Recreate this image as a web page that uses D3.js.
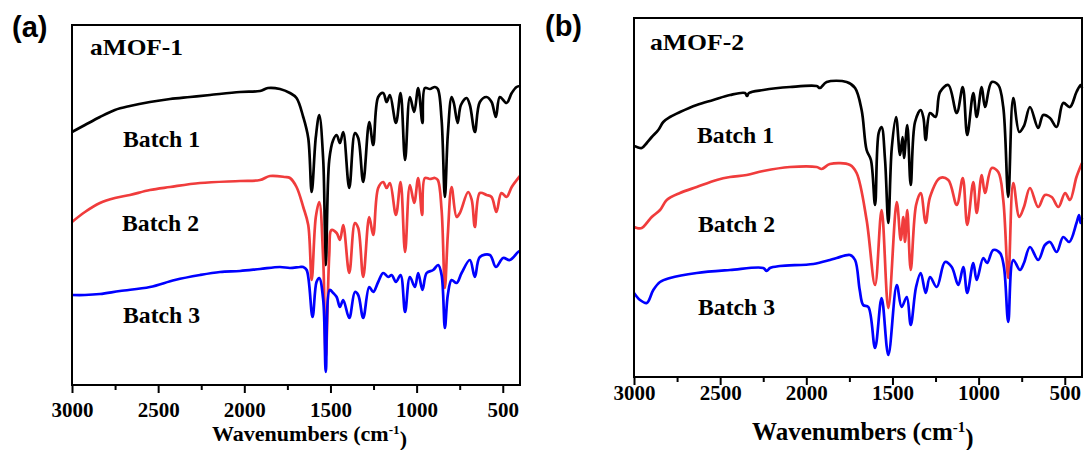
<!DOCTYPE html>
<html>
<head>
<meta charset="utf-8">
<script src="https://cdn.jsdelivr.net/npm/d3@7/dist/d3.min.js"></script>
<style>
  html, body { margin: 0; padding: 0; background: #fff; }
  svg { display: block; }
</style>
</head>
<body>
<svg id="chart" width="1085" height="450"></svg>
<script>
// ---------- DATA (wavenumber in cm^-1, intensity in arbitrary units, curves already offset) ----------
const wnA1 = [3000,2925,2838,2751,2664,2548,2431,2315,2199,2025,1909,1863,1793,1735,1697,1658,1629,1609,1585,1565,1542,1527,1507,1484,1464,1445,1426,1391,1358,1339,1310,1275,1252,1223,1194,1174,1155,1120,1093,1067,1039,1014,991,966,952,923,894,877,855,836,819,797,784,762,743,710,691,662,633,594,565,540,517,478,448,420,400];
const a1 = [253,260,268,275,279,283,286,288,290,293,294,297,296,292,287,268,247,193,248,270,225,120,225,245,250,242,253,197,252,247,203,263,240,288,292,283,290,262,292,225,288,273,297,262,297,296,298,296,265,188,250,288,282,262,280,287,280,253,283,288,283,268,288,282,292,298,299];

const wnA2 = [3000,2925,2838,2751,2664,2548,2431,2257,2025,1909,1851,1764,1735,1697,1658,1629,1609,1585,1565,1542,1527,1507,1494,1464,1445,1426,1391,1358,1339,1310,1275,1252,1223,1194,1174,1155,1120,1093,1067,1039,1014,991,968,952,923,894,877,855,836,819,797,768,749,701,680,662,633,594,565,537,508,478,448,405,400];
const a2 = [163,173,182,187,190,195,198,202,204,205,209,208,207,198,178,160,105,168,183,125,28,130,155,152,145,160,112,162,157,108,168,150,197,203,197,202,170,203,133,200,182,207,170,207,206,207,205,175,97,150,198,168,172,193,185,158,192,190,188,173,192,188,198,208,209];

const wnA3 = [3000,2925,2838,2722,2548,2403,2257,2141,2025,1909,1793,1735,1677,1658,1638,1604,1581,1565,1542,1527,1504,1484,1464,1445,1426,1391,1358,1339,1310,1275,1252,1223,1194,1165,1145,1120,1093,1067,1039,1010,991,966,942,904,875,855,836,819,797,768,739,691,662,633,575,540,498,459,411,400];
const a3 = [90,90,91,94,98,105,110,113,114,116,118,117,118,118,115,68,103,107,85,13,95,92,88,78,85,67,93,90,67,98,93,103,112,108,110,103,110,73,108,98,112,95,112,115,120,110,57,90,105,102,112,125,108,128,130,118,127,125,133,134];

const wnB1 = [3000,2983,2955,2926,2897,2859,2830,2791,2733,2636,2540,2443,2356,2344,2333,2250,2095,1940,1921,1882,1766,1717,1679,1650,1625,1601,1580,1563,1543,1524,1504,1479,1456,1441,1433,1414,1394,1369,1336,1320,1307,1282,1250,1224,1176,1127,1092,1066,1031,1011,982,963,924,886,857,828,799,764,737,702,654,625,586,547,509,470,432,408,400];
const b1 = [231,230,229,234,240,247,255,260,265,272,277,282,284,281,284,287,290,291,289,295,295,289,267,227,217,172,244,250,217,154,229,260,222,240,219,252,192,255,267,259,237,264,260,285,292,264,290,242,284,260,290,270,295,292,270,180,279,245,251,270,249,262,259,250,274,270,285,292,289];

const wnB2 = [3000,2983,2955,2926,2897,2849,2810,2733,2636,2520,2443,2346,2250,2095,1940,1911,1863,1746,1708,1650,1601,1563,1524,1475,1452,1437,1427,1414,1394,1363,1336,1307,1282,1224,1176,1127,1092,1066,1031,1011,982,963,924,886,857,828,799,764,737,702,654,615,576,537,498,470,432,400];
const b2 = [150,149,149,154,160,167,177,184,190,197,200,202,206,210,210,208,213,212,204,157,92,167,69,175,137,160,135,167,107,172,184,154,180,199,197,172,199,152,195,164,202,184,209,205,177,99,194,160,170,189,170,182,180,170,184,177,200,214];

const wnB3 = [3000,2965,2926,2888,2849,2791,2636,2443,2250,2230,2211,2153,1959,1863,1824,1746,1717,1690,1670,1640,1601,1563,1524,1475,1447,1417,1394,1363,1336,1307,1282,1243,1195,1156,1118,1089,1066,1031,1011,973,951,915,876,853,828,799,760,737,702,654,615,586,547,509,474,432,417,408,400];
const b3 = [84,77,74,87,95,99,104,107,109,106,109,111,113,117,119,122,117,87,72,70,29,79,22,92,70,80,52,90,104,84,100,90,115,110,92,110,84,114,97,119,114,127,124,110,55,117,107,114,130,117,132,135,125,140,135,154,162,154,159];

const xTicks = [3000, 2500, 2000, 1500, 1000, 500];
const xMinorTicks = [2750, 2250, 1750, 1250, 750];
const batchLabels = ["Batch 1", "Batch 2", "Batch 3"];
const seriesColors = ["#000000", "#f03c3c", "#0000ff"];

// ---------- DRAW ----------
const svg = d3.select("#chart");
const serif = "'Liberation Serif', 'Times New Roman', serif";
const sans = "'Liberation Sans', Arial, sans-serif";

const panels = [
  {
    left: 72, right: 520, top: 25, bottom: 385,
    letter: "(a)", letterX: 12, letterY: 37,
    title: "aMOF-1", titleX: 90, titleY: 55, titleW: 93,
    series: [[wnA1, a1], [wnA2, a2], [wnA3, a3]],
    labels: [[123, 147], [122, 231], [123, 323]],
    tickBase: 32, axisTitleX: 309.5, axisTitleY: 441, axisTitleSize: 22
  },
  {
    left: 634, right: 1082, top: 18, bottom: 377,
    letter: "(b)", letterX: 545, letterY: 36,
    title: "aMOF-2", titleX: 650, titleY: 50, titleW: 94,
    series: [[wnB1, b1], [wnB2, b2], [wnB3, b3]],
    labels: [[697, 143], [698, 232], [698, 315]],
    tickBase: 22.5, axisTitleX: 862.8, axisTitleY: 440, axisTitleSize: 25
  }
];

panels.forEach(p => {
  const x = d3.scaleLinear().domain([3000, 400]).range([p.left, p.right]);
  const y = d3.scaleLinear().domain([0, 360]).range([p.bottom, p.bottom - 360]);
  const g = svg.append("g");

  const line = d3.line()
    .x(d => x(d[0]))
    .y(d => y(d[1]))
    .curve(d3.curveCatmullRom.alpha(0.5));

  p.series.forEach((s, i) => {
    const pts = s[0].map((w, k) => [w, s[1][k]]);
    g.append("path")
      .datum(pts)
      .attr("d", line)
      .attr("fill", "none")
      .attr("stroke", seriesColors[i])
      .attr("stroke-width", 2.7)
      .attr("stroke-linejoin", "round");
  });

  g.append("rect")
    .attr("x", p.left).attr("y", p.top)
    .attr("width", p.right - p.left).attr("height", p.bottom - p.top)
    .attr("fill", "none").attr("stroke", "#000").attr("stroke-width", 2);

  const minor = g.append("g")
    .attr("transform", `translate(0,${p.bottom})`)
    .call(d3.axisBottom(x).tickValues(xMinorTicks).tickSize(5).tickFormat(""));
  minor.select(".domain").remove();
  minor.selectAll("line").attr("stroke", "#000").attr("stroke-width", 2);

  const major = g.append("g")
    .attr("transform", `translate(0,${p.bottom})`)
    .call(d3.axisBottom(x).tickValues(xTicks).tickSize(8).tickFormat(d3.format("d")));
  major.select(".domain").remove();
  major.selectAll("line").attr("stroke", "#000").attr("stroke-width", 2);
  major.selectAll("text")
    .attr("y", p.tickBase).attr("dy", null)
    .attr("fill", "#000")
    .style("font-family", serif)
    .style("font-weight", "bold")
    .style("font-size", "21px");

  const at = g.append("text")
    .attr("x", p.axisTitleX).attr("y", p.axisTitleY)
    .attr("text-anchor", "middle")
    .style("font-family", serif).style("font-weight", "bold")
    .style("font-size", p.axisTitleSize + "px")
    .attr("fill", "#000");
  at.append("tspan").text("Wavenumbers (cm");
  at.append("tspan").text("-1").attr("dy", "-0.55em").style("font-size", "60%");
  at.append("tspan").text(")").attr("dy", "0.55em");

  g.append("text")
    .attr("x", p.letterX).attr("y", p.letterY)
    .style("font-family", sans).style("font-weight", "bold").style("font-size", "29px")
    .attr("fill", "#000").text(p.letter);

  g.append("text")
    .attr("x", p.titleX).attr("y", p.titleY)
    .style("font-family", serif).style("font-weight", "bold").style("font-size", "23px")
    .attr("textLength", p.titleW).attr("lengthAdjust", "spacingAndGlyphs")
    .attr("fill", "#000").text(p.title);

  p.labels.forEach((pos, i) => {
    g.append("text")
      .attr("x", pos[0]).attr("y", pos[1])
      .style("font-family", serif).style("font-weight", "bold").style("font-size", "24px")
      .attr("textLength", 77).attr("lengthAdjust", "spacingAndGlyphs")
      .attr("fill", "#000").text(batchLabels[i]);
  });
});
</script>
</body>
</html>
